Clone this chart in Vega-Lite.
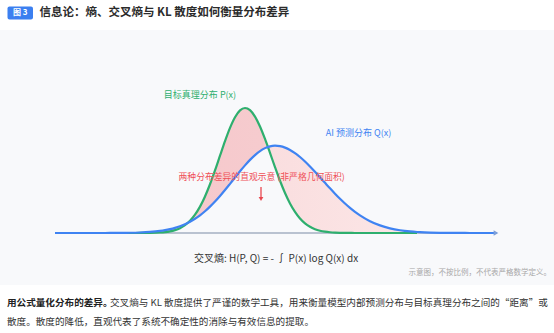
{
  "$schema": "https://vega.github.io/schema/vega-lite/v6.json",
  "padding": 0,
  "spacing": 0,
  "background": "#ffffff",
  "config": {"view": {"stroke": null}, "font": "Noto Sans CJK SC", "text": {"font": "Noto Sans CJK SC"}},
  "resolve": {"scale": {"x": "independent", "y": "independent"}},
  "vconcat": [
    {
      "width": 554,
      "height": 30,
      "data": {"values": [{}]},
      "layer": [
        {"mark": {"type": "rect", "color": "#3b7ff0", "cornerRadius": 2},
         "encoding": {
           "x": {"datum": 7.5, "type": "quantitative", "scale": {"domain": [0, 554], "nice": false, "zero": false}, "axis": null},
           "x2": {"datum": 33},
           "y": {"datum": 6.5, "type": "quantitative", "scale": {"domain": [0, 30], "nice": false, "zero": false, "reverse": true}, "axis": null},
           "y2": {"datum": 19.5}}},
        {"mark": {"type": "text", "text": "图 3", "color": "#ffffff", "fontWeight": "bold", "fontSize": 8, "align": "center", "baseline": "middle"},
         "encoding": {
           "x": {"datum": 20.3, "type": "quantitative", "scale": {"domain": [0, 554], "nice": false, "zero": false}, "axis": null},
           "y": {"datum": 13, "type": "quantitative", "scale": {"domain": [0, 30], "nice": false, "zero": false, "reverse": true}, "axis": null}}},
        {"mark": {"type": "text", "text": "信息论：熵、交叉熵与 KL 散度如何衡量分布差异", "color": "#2b2b2b", "fontWeight": "bold", "fontSize": 11.5, "align": "left", "baseline": "middle"},
         "encoding": {
           "x": {"datum": 39.5, "type": "quantitative", "scale": {"domain": [0, 554], "nice": false, "zero": false}, "axis": null},
           "y": {"datum": 13, "type": "quantitative", "scale": {"domain": [0, 30], "nice": false, "zero": false, "reverse": true}, "axis": null}}}
      ]
    },
    {
      "width": 554,
      "height": 255,
      "view": {"fill": "#f8f9fb", "stroke": null},
      "data": {"values": [
        {"x": 5.5, "p": 0, "q": 0},
        {"x": 8, "p": 0, "q": 0},
        {"x": 10, "p": 0, "q": 0.0001},
        {"x": 11, "p": 0, "q": 0.0004},
        {"x": 12, "p": 0, "q": 0.001},
        {"x": 13, "p": 0, "q": 0.0023},
        {"x": 14, "p": 0.0003, "q": 0.005},
        {"x": 15, "p": 0.0012, "q": 0.0104},
        {"x": 16, "p": 0.0048, "q": 0.0205},
        {"x": 16.5, "p": 0.0091, "q": 0.0283},
        {"x": 17, "p": 0.0165, "q": 0.0384},
        {"x": 17.5, "p": 0.0289, "q": 0.0513},
        {"x": 18, "p": 0.0485, "q": 0.0676},
        {"x": 18.5, "p": 0.0785, "q": 0.0879},
        {"x": 19, "p": 0.1221, "q": 0.1126},
        {"x": 19.5, "p": 0.1829, "q": 0.1423},
        {"x": 20, "p": 0.2635, "q": 0.1773},
        {"x": 20.5, "p": 0.3654, "q": 0.2177},
        {"x": 21, "p": 0.4874, "q": 0.2636},
        {"x": 21.5, "p": 0.6256, "q": 0.3147},
        {"x": 22, "p": 0.773, "q": 0.3703},
        {"x": 22.5, "p": 0.919, "q": 0.4298},
        {"x": 23, "p": 1.0514, "q": 0.4918},
        {"x": 23.5, "p": 1.1575, "q": 0.5547},
        {"x": 24, "p": 1.2262, "q": 0.617},
        {"x": 24.5, "p": 1.25, "q": 0.6764},
        {"x": 25, "p": 1.228, "q": 0.7312},
        {"x": 25.5, "p": 1.1641, "q": 0.7794},
        {"x": 26, "p": 1.065, "q": 0.8191},
        {"x": 26.5, "p": 0.9402, "q": 0.8487},
        {"x": 27, "p": 0.801, "q": 0.8668},
        {"x": 27.5, "p": 0.6586, "q": 0.873},
        {"x": 28, "p": 0.5226, "q": 0.8682},
        {"x": 28.5, "p": 0.4001, "q": 0.8539},
        {"x": 29, "p": 0.2956, "q": 0.8306},
        {"x": 29.5, "p": 0.2108, "q": 0.799},
        {"x": 30, "p": 0.145, "q": 0.7601},
        {"x": 30.5, "p": 0.0963, "q": 0.7152},
        {"x": 31, "p": 0.0618, "q": 0.6655},
        {"x": 31.5, "p": 0.0382, "q": 0.6124},
        {"x": 32, "p": 0.0228, "q": 0.5573},
        {"x": 32.5, "p": 0.0131, "q": 0.5017},
        {"x": 33, "p": 0.0073, "q": 0.4465},
        {"x": 33.5, "p": 0.0039, "q": 0.3931},
        {"x": 34, "p": 0.002, "q": 0.3423},
        {"x": 34.5, "p": 0.001, "q": 0.2947},
        {"x": 35, "p": 0.0005, "q": 0.251},
        {"x": 35.5, "p": 0, "q": 0.2114},
        {"x": 36, "p": 0, "q": 0.1761},
        {"x": 37, "p": 0, "q": 0.1181},
        {"x": 38, "p": 0, "q": 0.0759},
        {"x": 39, "p": 0, "q": 0.0466},
        {"x": 40, "p": 0, "q": 0.0274},
        {"x": 41, "p": 0, "q": 0.0154},
        {"x": 41.7, "p": 0, "q": 0.01},
        {"x": 42, "p": 0, "q": 0.0083},
        {"x": 43, "p": 0, "q": 0.0043},
        {"x": 44, "p": 0, "q": 0.0021},
        {"x": 45, "p": 0, "q": 0.001},
        {"x": 46, "p": 0, "q": 0.0004},
        {"x": 47, "p": 0, "q": 0.0002},
        {"x": 48, "p": 0, "q": 0.0001},
        {"x": 49.7, "p": 0, "q": 0}
      ]},
      "layer": [
        {"data": {"values": [{}]},
         "mark": {"type": "rule", "color": "#a4afc2", "strokeWidth": 1.5},
         "encoding": {
           "x": {"datum": 5.5, "type": "quantitative", "scale": {"domain": [0, 55.4], "nice": false, "zero": false}, "axis": null},
           "x2": {"datum": 49.4},
           "y": {"datum": 0, "type": "quantitative", "scale": {"domain": [-0.52, 2.03], "nice": false, "zero": false}, "axis": null}}},
        {"mark": {"type": "area", "interpolate": "monotone",
                  "color": {"gradient": "linear", "x1": 0, "y1": 0, "x2": 1, "y2": 0,
                            "stops": [{"offset": 0, "color": "#f5c5c9"}, {"offset": 0.47, "color": "#f6cbce"}, {"offset": 0.49, "color": "#fadedf"}, {"offset": 1, "color": "#fcebeb"}]}},
         "encoding": {
           "x": {"field": "x", "type": "quantitative", "scale": {"domain": [0, 55.4], "nice": false, "zero": false}, "axis": null},
           "y": {"field": "p", "type": "quantitative", "scale": {"domain": [-0.52, 2.03], "nice": false, "zero": false}, "axis": null},
           "y2": {"field": "q"}}},
        {"transform": [{"filter": "datum.x <= 41.7"}],
         "mark": {"type": "line", "interpolate": "monotone", "color": "#2eaf6e", "strokeWidth": 2.2},
         "encoding": {
           "x": {"field": "x", "type": "quantitative", "scale": {"domain": [0, 55.4], "nice": false, "zero": false}, "axis": null},
           "y": {"field": "p", "type": "quantitative", "scale": {"domain": [-0.52, 2.03], "nice": false, "zero": false}, "axis": null}}},
        {"mark": {"type": "line", "interpolate": "monotone", "color": "#3f83f2", "strokeWidth": 2.2},
         "encoding": {
           "x": {"field": "x", "type": "quantitative", "scale": {"domain": [0, 55.4], "nice": false, "zero": false}, "axis": null},
           "y": {"field": "q", "type": "quantitative", "scale": {"domain": [-0.52, 2.03], "nice": false, "zero": false}, "axis": null}}},
        {"data": {"values": [{}]},
         "mark": {"type": "point", "shape": "triangle-right", "filled": true, "size": 30, "color": "#7d9fd8", "opacity": 1},
         "encoding": {
           "x": {"datum": 49.6, "type": "quantitative", "scale": {"domain": [0, 55.4], "nice": false, "zero": false}, "axis": null},
           "y": {"datum": 0, "type": "quantitative", "scale": {"domain": [-0.52, 2.03], "nice": false, "zero": false}, "axis": null}}},
        {"data": {"values": [{}]},
         "mark": {"type": "rule", "color": "#e8474f", "strokeWidth": 1.3},
         "encoding": {
           "x": {"datum": 26.1, "type": "quantitative", "scale": {"domain": [0, 55.4], "nice": false, "zero": false}, "axis": null},
           "y": {"datum": 0.46, "type": "quantitative", "scale": {"domain": [-0.52, 2.03], "nice": false, "zero": false}, "axis": null},
           "y2": {"datum": 0.34}}},
        {"data": {"values": [{}]},
         "mark": {"type": "point", "shape": "triangle-down", "filled": true, "size": 22, "color": "#e8474f", "opacity": 1},
         "encoding": {
           "x": {"datum": 26.1, "type": "quantitative", "scale": {"domain": [0, 55.4], "nice": false, "zero": false}, "axis": null},
           "y": {"datum": 0.34, "type": "quantitative", "scale": {"domain": [-0.52, 2.03], "nice": false, "zero": false}, "axis": null}}},
        {"data": {"values": [{}]},
         "mark": {"type": "text", "text": "目标真理分布 P(x)", "color": "#2eaf6e", "fontSize": 9, "align": "center", "baseline": "middle"},
         "encoding": {
           "x": {"datum": 20.0, "type": "quantitative", "scale": {"domain": [0, 55.4], "nice": false, "zero": false}, "axis": null},
           "y": {"datum": 1.38, "type": "quantitative", "scale": {"domain": [-0.52, 2.03], "nice": false, "zero": false}, "axis": null}}},
        {"data": {"values": [{}]},
         "mark": {"type": "text", "text": "AI 预测分布 Q(x)", "color": "#3f83f2", "fontSize": 9, "align": "center", "baseline": "middle"},
         "encoding": {
           "x": {"datum": 35.85, "type": "quantitative", "scale": {"domain": [0, 55.4], "nice": false, "zero": false}, "axis": null},
           "y": {"datum": 1.0, "type": "quantitative", "scale": {"domain": [-0.52, 2.03], "nice": false, "zero": false}, "axis": null}}},
        {"data": {"values": [{}]},
         "mark": {"type": "text", "text": "两种分布差异的直观示意 (非严格几何面积)", "color": "#ef5057", "fontSize": 8.8, "align": "center", "baseline": "middle"},
         "encoding": {
           "x": {"datum": 26.17, "type": "quantitative", "scale": {"domain": [0, 55.4], "nice": false, "zero": false}, "axis": null},
           "y": {"datum": 0.563, "type": "quantitative", "scale": {"domain": [-0.52, 2.03], "nice": false, "zero": false}, "axis": null}}},
        {"data": {"values": [{}]},
         "mark": {"type": "text", "text": "交叉熵: H(P, Q) = -  ∫  P(x) log Q(x) dx", "color": "#333333", "fontSize": 10, "align": "center", "baseline": "middle"},
         "encoding": {
           "x": {"datum": 27.6, "type": "quantitative", "scale": {"domain": [0, 55.4], "nice": false, "zero": false}, "axis": null},
           "y": {"datum": -0.26, "type": "quantitative", "scale": {"domain": [-0.52, 2.03], "nice": false, "zero": false}, "axis": null}}},
        {"data": {"values": [{}]},
         "mark": {"type": "text", "text": "示意图，不按比例，不代表严格数学定义。", "color": "#a8a8a8", "fontSize": 7.5, "align": "right", "baseline": "middle"},
         "encoding": {
           "x": {"datum": 55.1, "type": "quantitative", "scale": {"domain": [0, 55.4], "nice": false, "zero": false}, "axis": null},
           "y": {"datum": -0.4, "type": "quantitative", "scale": {"domain": [-0.52, 2.03], "nice": false, "zero": false}, "axis": null}}}
      ]
    },
    {
      "width": 554,
      "height": 48,
      "data": {"values": [{}]},
      "layer": [
        {"mark": {"type": "text", "text": "用公式量化分布的差异。", "color": "#222222", "fontWeight": "bold", "fontSize": 9.6, "align": "left", "baseline": "middle"},
         "encoding": {
           "x": {"datum": 7, "type": "quantitative", "scale": {"domain": [0, 554], "nice": false, "zero": false}, "axis": null},
           "y": {"datum": 18, "type": "quantitative", "scale": {"domain": [0, 48], "nice": false, "zero": false, "reverse": true}, "axis": null}}},
        {"mark": {"type": "text", "text": "交叉熵与 KL 散度提供了严谨的数学工具，用来衡量模型内部预测分布与目标真理分布之间的“距离”或", "color": "#333333", "fontSize": 9.6, "align": "left", "baseline": "middle"},
         "encoding": {
           "x": {"datum": 110, "type": "quantitative", "scale": {"domain": [0, 554], "nice": false, "zero": false}, "axis": null},
           "y": {"datum": 18, "type": "quantitative", "scale": {"domain": [0, 48], "nice": false, "zero": false, "reverse": true}, "axis": null}}},
        {"mark": {"type": "text", "text": "散度。散度的降低，直观代表了系统不确定性的消除与有效信息的提取。", "color": "#333333", "fontSize": 9.6, "align": "left", "baseline": "middle"},
         "encoding": {
           "x": {"datum": 7, "type": "quantitative", "scale": {"domain": [0, 554], "nice": false, "zero": false}, "axis": null},
           "y": {"datum": 36.5, "type": "quantitative", "scale": {"domain": [0, 48], "nice": false, "zero": false, "reverse": true}, "axis": null}}}
      ]
    }
  ]
}
